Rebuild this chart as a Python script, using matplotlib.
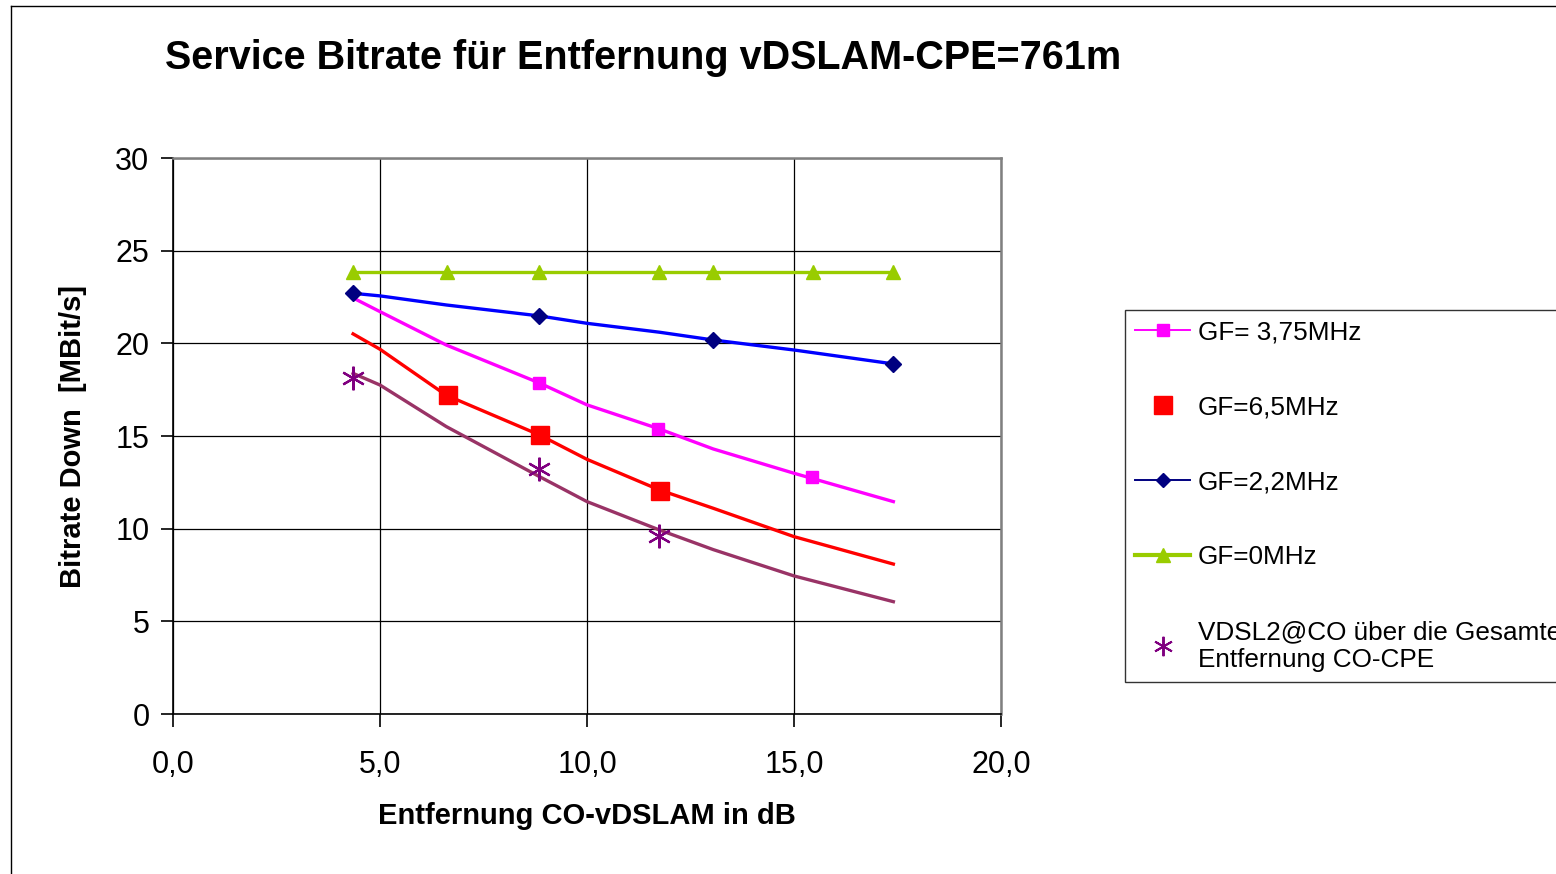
import matplotlib
matplotlib.use("Agg")
import matplotlib.pyplot as plt
from matplotlib.lines import Line2D

plt.rcParams['font.family'] = ['Liberation Sans', 'DejaVu Sans']

# ---- data ----
curve_x = [4.35, 5.0, 6.6, 8.85, 10.0, 11.75, 13.05, 15.0, 17.4]
blue_curve = [22.70, 22.56, 22.07, 21.48, 21.08, 20.60, 20.18, 19.64, 18.89]
magenta_curve = [22.45, 21.71, 19.91, 17.86, 16.68, 15.38, 14.3, 12.99, 11.46]
red_curve = [20.51, 19.68, 17.2, 15.06, 13.74, 12.09, 11.1, 9.57, 8.09]
purple_curve = [18.38, 17.75, 15.51, 12.81, 11.46, 9.93, 8.87, 7.45, 6.06]

mag_mk_x = [8.84, 11.72, 15.43]
mag_mk_y = [17.86, 15.38, 12.79]
red_mk_x = [6.65, 8.86, 11.77]
red_mk_y = [17.2, 15.08, 12.05]
blue_mk_x = [4.35, 8.84, 13.05, 17.4]
blue_mk_y = [22.70, 21.48, 20.18, 18.89]
green_x = [4.35, 6.62, 8.84, 11.74, 13.04, 15.46, 17.39]
green_y = [23.85, 23.85, 23.85, 23.85, 23.85, 23.85, 23.85]
ast_x = [4.35, 8.84, 11.74]
ast_y = [18.15, 13.2, 9.6]

labels = ["GF= 3,75MHz", "GF=6,5MHz", "GF=2,2MHz", "GF=0MHz",
          "VDSL2@CO über die Gesamte\nEntfernung CO-CPE"]
xticks = [0, 5, 10, 15, 20]
xticklabels = ["0,0", "5,0", "10,0", "15,0", "20,0"]
yticks = [0, 5, 10, 15, 20, 25, 30]

W, H = 1556, 874
fig = plt.figure(figsize=(W / 100, H / 100), dpi=100)
fig.patch.set_facecolor('white')

# outer frame (left and top edges visible)
fig.add_artist(Line2D([11 / W, 11 / W], [0, 1 - 6 / H], transform=fig.transFigure, color='black', lw=1))
fig.add_artist(Line2D([11 / W, 1], [1 - 6 / H, 1 - 6 / H], transform=fig.transFigure, color='black', lw=1))

ax = fig.add_axes([173 / W, 1 - 714 / H, (1001 - 173) / W, (714 - 158) / H])
ax.set_xlim(0, 20)
ax.set_ylim(0, 30)

ax.set_xticks(xticks)
ax.set_xticklabels(xticklabels)
ax.set_yticks(yticks)
ax.grid(True, color='black', lw=0.9)
ax.set_axisbelow(True)
for s in ['top', 'right']:
    ax.spines[s].set_color('#808080')
    ax.spines[s].set_linewidth(1.8)
for s in ['left', 'bottom']:
    ax.spines[s].set_color('black')
    ax.spines[s].set_linewidth(1.2)
ax.tick_params(axis='both', direction='out', length=9, width=1.2, labelsize=22, pad=8)
ax.tick_params(axis='x', pad=17)

# curves
ax.plot(curve_x, blue_curve, color='#0000FF', lw=2.4, zorder=3)
ax.plot(curve_x, magenta_curve, color='#FF00FF', lw=2.4, zorder=3)
ax.plot(curve_x, red_curve, color='#FF0000', lw=2.4, zorder=3)
ax.plot(curve_x, purple_curve, color='#993366', lw=2.4, zorder=3)
ax.plot(green_x, green_y, color='#99CC00', lw=2.4, marker='^', ms=10,
        mfc='#99CC00', mec='#99CC00', zorder=3)

# markers
ax.plot(mag_mk_x, mag_mk_y, ls='none', marker='s', ms=9, color='#FF00FF', zorder=4)
ax.plot(red_mk_x, red_mk_y, ls='none', marker='s', ms=13, color='#FF0000', zorder=4)
ax.plot(blue_mk_x, blue_mk_y, ls='none', marker='D', ms=8, color='#000080', zorder=4)
ax.plot(ast_x, ast_y, ls='none', marker=(6, 2, 0), ms=17, mew=1.6, color='#800080', zorder=4)

ax.set_xlabel("Entfernung CO-vDSLAM in dB", fontsize=21, fontweight='bold', labelpad=16)
ax.set_ylabel("Bitrate Down  [MBit/s]", fontsize=21, fontweight='bold', labelpad=20)

fig.text(643 / W, 1 - 58 / H, "Service Bitrate für Entfernung vDSLAM-CPE=761m",
         fontsize=28.5, fontweight='bold', ha='center', va='center')

handles = [
    Line2D([], [], color='#FF00FF', lw=1.4, marker='s', ms=9),
    Line2D([], [], ls='none', color='#FF0000', marker='s', ms=13),
    Line2D([], [], color='#000080', lw=1.4, marker='D', ms=7),
    Line2D([], [], color='#99CC00', lw=3, marker='^', ms=10),
    Line2D([], [], ls='none', color='#800080', marker=(6, 2, 0), ms=14, mew=1.4),
]
leg = fig.legend(handles, labels, loc='upper left', bbox_to_anchor=(1125 / W, 1 - 310 / H),
                 bbox_transform=fig.transFigure, fontsize=18.8, frameon=True, fancybox=False,
                 edgecolor='black', labelspacing=1.95, handlelength=2.1, handletextpad=0.3,
                 borderpad=0.4, borderaxespad=0)
leg.get_frame().set_linewidth(1.0)

fig.savefig("out.png", dpi=100)
